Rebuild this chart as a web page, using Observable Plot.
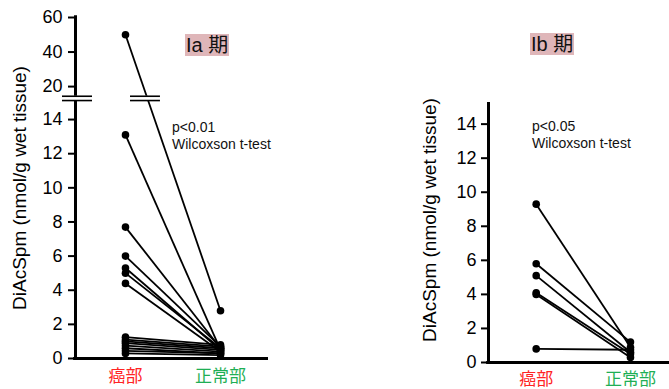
<!DOCTYPE html>
<html>
<head>
<meta charset="utf-8">
<script src="https://cdn.jsdelivr.net/npm/d3@7"></script>
<script src="https://cdn.jsdelivr.net/npm/@observablehq/plot@0.6"></script>
<style>
  body { margin: 0; background: #fff; }
  #wrap { position: relative; width: 669px; height: 389px; background: #fff; overflow: hidden; font-family: "Liberation Sans", Arial, sans-serif; color: #000; }
  .panel { position: absolute; top: 0; }
  .panel svg [aria-label^="y-axis"] line, .panel svg [aria-label^="y-axis"] path { stroke-width: 2; }
  .ylab { position: absolute; white-space: nowrap; font-size: 19px; transform: translate(-50%, -50%) rotate(-90deg); }
  .title { position: absolute; background: #dfb6b9; font-size: 20px; line-height: 22px; height: 22px; padding: 0 1px; font-family: "Liberation Sans", "Noto Sans CJK JP", sans-serif; color: #111; }
  .pval { position: absolute; font-size: 14px; line-height: 17px; color: #111; white-space: nowrap; }
</style>
</head>
<body>
<div id="wrap">
  <div id="left" class="panel" style="left:0px"></div>
  <div id="right" class="panel" style="left:335px"></div>
  <div class="ylab" style="left:20px; top:188px">DiAcSpm (nmol/g wet tissue)</div>
  <div class="ylab" style="left:430px; top:220px">DiAcSpm (nmol/g wet tissue)</div>
  <div class="title" style="left:185px; top:34px">Ia 期</div>
  <div class="title" style="left:530px; top:33px">Ib 期</div>
  <div class="pval" style="left:172px; top:119px">p&lt;0.01<br>Wilcoxson t-test</div>
  <div class="pval" style="left:532px; top:118px">p&lt;0.05<br>Wilcoxson t-test</div>
</div>
<script>
// ---- data ----
const categories = ["癌部", "正常部"];
const categoryColors = ["#ff2424", "#1faf55"];
const iaCancer = [50, 13.1, 7.7, 6.0, 5.3, 5.0, 4.4, 1.25, 1.1, 1.0, 0.9, 0.75, 0.6, 0.45, 0.3];
const iaNormal = [2.8, 0.5, 0.6, 0.7, 0.5, 0.6, 0.4, 0.8, 0.7, 0.6, 0.5, 0.4, 0.3, 0.3, 0.2];
const ibCancer = [9.3, 5.8, 5.1, 4.1, 4.0, 0.8];
const ibNormal = [0.9, 1.2, 0.6, 0.5, 0.3, 0.75];
const iaTicks = [0, 2, 4, 6, 8, 10, 12, 14, 20, 40, 60];
const ibTicks = [0, 2, 4, 6, 8, 10, 12, 14];

const baseStyle = { fontFamily: "Liberation Sans, Arial, sans-serif", fontSize: "18px", color: "#000", background: "transparent", overflow: "visible" };
const cjk = "Noto Sans CJK JP, sans-serif";

// broken-axis mapping for the Ia panel: values above the break are compressed
const breakLow = 15, breakHigh = 16, breakGap = 0.527, upperRatio = 0.1012;
const brk = v => v <= breakLow ? v : breakLow + breakGap + (v - breakHigh) * upperRatio;

function pairMarks(cancer, normal, f) {
  const idx = d3.range(cancer.length);
  return [
    Plot.link(idx, { x1: () => 1, x2: () => 2, y1: i => f(cancer[i]), y2: i => f(normal[i]), stroke: "#000", strokeWidth: 1.8 }),
    Plot.dot(cancer, { x: () => 1, y: d => f(d), r: 3.8, fill: "#000", stroke: "none" }),
    Plot.dot(normal, { x: () => 2, y: d => f(d), r: 3.8, fill: "#000", stroke: "none" })
  ];
}
function catLabels(dy) {
  return categories.map((c, i) => Plot.text([c], { x: () => i + 1, y: () => 0, dy, text: d => d, fill: categoryColors[i], fontSize: 17, fontFamily: cjk }));
}

// ---- left panel (Ia, broken axis) ----
const xL = [0.474, 2.505];
const pxPerX = 95;
const brkY = [15.114, 15.366];
const left = Plot.plot({
  width: 335, height: 389,
  marginLeft: 75, marginRight: 67, marginTop: 17, marginBottom: 31,
  style: baseStyle,
  x: { domain: xL, axis: null },
  y: { domain: [0, brk(60)], axis: null },
  marks: [
    Plot.ruleX([xL[0]], { y1: () => 0, y2: () => brk(60) + 0.1, strokeWidth: 3, stroke: "#000" }),
    Plot.ruleY([0], { x1: () => xL[0] - 0.02, x2: () => xL[1], strokeWidth: 3, stroke: "#000" }),
    Plot.ruleY(iaTicks, { y: d => brk(d), x1: () => xL[0] - 7 / pxPerX, x2: () => xL[0], strokeWidth: 2, stroke: "#000" }),
    Plot.text(iaTicks, { y: d => brk(d), x: () => xL[0], dx: -13, textAnchor: "end", text: d => String(d), fontSize: 18 }),
    ...pairMarks(iaCancer, iaNormal, brk),
    // axis break
    Plot.rect([0], { x1: () => 0.337, x2: () => 0.653, y1: () => brkY[0], y2: () => brkY[1], fill: "#fff" }),
    Plot.ruleY(brkY, { x1: () => 0.337, x2: () => 0.653, strokeWidth: 1.6, stroke: "#000" }),
    Plot.rect([0], { x1: () => 1.053, x2: () => 1.368, y1: () => brkY[0], y2: () => brkY[1], fill: "#fff" }),
    Plot.ruleY(brkY, { x1: () => 1.053, x2: () => 1.368, strokeWidth: 1.6, stroke: "#000" }),
    ...catLabels(18)
  ]
});
document.getElementById("left").appendChild(left);

// ---- right panel (Ib) ----
const xR = [0.494, 2.414];
const right = Plot.plot({
  width: 334, height: 389,
  marginLeft: 153, marginRight: 0, marginTop: 102, marginBottom: 27,
  style: baseStyle,
  x: { domain: xR, axis: null },
  y: { domain: [0, 15.27], ticks: ibTicks, tickSize: 7, tickPadding: 5, label: null, tickFormat: d => String(d) },
  marks: [
    Plot.ruleX([xR[0]], { y1: () => 0, y2: () => 15.27, strokeWidth: 3, stroke: "#000" }),
    Plot.ruleY([0], { x1: () => xR[0] - 0.02, x2: () => xR[1], strokeWidth: 3, stroke: "#000" }),
    ...pairMarks(ibCancer, ibNormal, v => v),
    ...catLabels(17)
  ]
});
document.getElementById("right").appendChild(right);
</script>
</body>
</html>
